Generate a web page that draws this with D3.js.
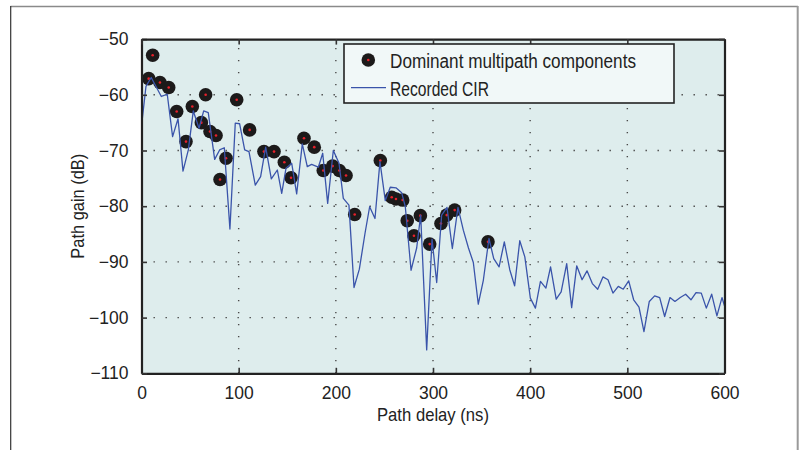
<!DOCTYPE html>
<html>
<head>
<meta charset="utf-8">
<script src="https://cdn.jsdelivr.net/npm/d3@7"></script>
<style>
  html, body { margin: 0; padding: 0; background: #ffffff; }
  svg { display: block; }
  text { font-family: "Liberation Sans Narrow", "Liberation Sans", Arial, sans-serif; fill: #222; }
</style>
</head>
<body>
<svg id="chart" width="806" height="450"></svg>
<script>
// ---------------- DATA ----------------
const xTicks = [0, 100, 200, 300, 400, 500, 600];
const yTicks = [-110, -100, -90, -80, -70, -60, -50];

// Recorded CIR (path delay ns, path gain dB)
const cirDelay = [0, 4.6, 10, 20.4, 26.5, 32, 37.6, 42.7, 48.2, 53.3, 59.2, 64, 68.7, 75.3, 80.4, 85.2, 91, 96.5, 101, 106.2,
  110.6, 117.1, 122.6, 127.8, 133.6, 139.8, 144.3, 148.7, 154.6, 159.7, 165.5, 170.6, 175.1, 182, 186.5, 191.6, 197.4, 203.3, 207.7, 213.5,
  218.7, 224.2, 230, 234.8, 240.3, 245.4, 250.9, 256, 261.9, 267.8, 271.5, 277.4, 283.2, 287.3, 293.5, 299, 303.8, 308.9, 314.4, 319.9,
  325.7, 331.2, 336.5, 341.5, 346.6, 351.8, 357.6, 362.5, 368, 373.4, 379, 384, 389.3, 394.5, 400.2, 405.4, 410.6, 416.2, 421, 426.8,
  431.9, 437.6, 442.7, 447.9, 453.4, 458.5, 464, 469.5, 474.9, 480.1, 485.2, 490.7, 495.8, 501.4, 506.5, 512, 517.1, 522.6, 528.1, 533.3,
  538.4, 543.9, 549, 554.5, 560, 565.5, 570.7, 576.1, 581.3, 586.8, 592.2, 597.4, 600];
const cirGain = [-65.6, -58.5, -56.9, -60.3, -59.9, -67.5, -64.3, -73.7, -69.9, -62.9, -66.0, -62.9, -63.2, -71.6, -69.9, -69.5, -84.1, -65.1, -65.2, -69.9,
  -70.2, -76.2, -74.7, -69.4, -75.1, -73.5, -77.7, -73.2, -72.3, -77.8, -68.8, -72.9, -72.5, -73.0, -70.5, -79.5, -70.0, -72.3, -78.6, -79.8,
  -94.6, -91.3, -84.9, -80.1, -82.2, -72.0, -79.0, -76.6, -76.7, -77.6, -80.1, -91.5, -87.5, -81.6, -105.8, -85.9, -93.7, -81.6, -80.2, -87.6,
  -80.2, -84.3, -87.5, -90.1, -97.6, -93.3, -85.8, -89.4, -90.9, -86.4, -91.4, -94.3, -86.2, -89.1, -96.5, -98.3, -93.5, -94.7, -90.9, -96.7,
  -95.4, -90.3, -98.2, -90.7, -93.2, -91.6, -93.9, -94.9, -92.7, -93.2, -95.6, -94.4, -94.9, -93.4, -96.8, -98.1, -102.5, -97.1, -96.1, -96.4,
  -99.8, -96.4, -97.1, -96.4, -95.8, -96.8, -95.5, -95.6, -98.3, -95.8, -99.7, -96.4, -97.9];

// Dominant multipath components
const mpcDelay = [11.5, 7.4, 19, 28, 36.2, 45.8, 52.3, 61.6, 66, 70.5, 76.7, 80.8, 87, 98, 111.3, 126, 136.4, 147, 153.9, 167.2,
  177.8, 187.1, 196.7, 203.6, 210.5, 219.4, 245.8, 257.5, 261.9, 268.8, 273.5, 280.4, 287, 296.6, 308.2, 314.1, 322.3, 356.6];
const mpcGain = [-52.9, -57.1, -57.8, -58.7, -63.0, -68.4, -62.1, -65.0, -60.0, -66.6, -67.3, -75.2, -71.4, -60.9, -66.3, -70.2, -70.2, -72.1, -74.9, -67.8,
  -69.4, -73.6, -72.8, -73.6, -74.5, -81.5, -71.8, -78.4, -78.7, -78.9, -82.6, -85.3, -81.7, -86.8, -83.1, -81.6, -80.7, -86.4];

const legendLabels = ["Dominant multipath components", "Recorded CIR"];
const xLabel = "Path delay (ns)";
const yLabel = "Path gain (dB)";

// ---------------- CHART ----------------
const svg = d3.select("#chart");
const L = 141.5, R = 724.5, T = 39.1, B = 373.3;
const x = d3.scaleLinear().domain([0, 600]).range([L, R]);
const y = d3.scaleLinear().domain([-110, -50]).range([B, T]);

// outer frame
svg.append("line").attr("x1", 10.5).attr("x2", 798).attr("y1", 6.5).attr("y2", 6.5)
  .attr("stroke", "#8a8a8a").attr("stroke-width", 1.5);
svg.append("line").attr("x1", 10.7).attr("x2", 10.7).attr("y1", 6).attr("y2", 450)
  .attr("stroke", "#333").attr("stroke-width", 1.2);
svg.append("line").attr("x1", 797.7).attr("x2", 797.7).attr("y1", 6).attr("y2", 450)
  .attr("stroke", "#9a9a9a").attr("stroke-width", 2);

// plot background
svg.append("rect").attr("x", L).attr("y", T).attr("width", R - L).attr("height", B - T)
  .attr("fill", "#deeded");

// grid (dotted)
const grid = svg.append("g").attr("stroke", "#4a4a4a").attr("stroke-width", 1.4)
  .attr("stroke-dasharray", "1.4,10.6");
grid.selectAll("line.h").data(yTicks.slice(1, -1)).join("line").attr("class", "h")
  .attr("x1", L).attr("x2", R).attr("y1", d => y(d)).attr("y2", d => y(d));
grid.selectAll("line.v").data(xTicks.slice(1, -1)).join("line").attr("class", "v")
  .attr("x1", d => x(d)).attr("x2", d => x(d)).attr("y1", B).attr("y2", T);

// clip
svg.append("clipPath").attr("id", "clip").append("rect")
  .attr("x", L).attr("y", T).attr("width", R - L).attr("height", B - T);
const plot = svg.append("g").attr("clip-path", "url(#clip)");

// markers
const mpc = mpcDelay.map((d, i) => ({ d, g: mpcGain[i] }));
plot.selectAll("circle.mpc").data(mpc).join("circle").attr("class", "mpc")
  .attr("cx", p => x(p.d)).attr("cy", p => y(p.g)).attr("r", 6.8)
  .attr("fill", "#1c1a1a");
plot.selectAll("circle.mpcc").data(mpc).join("circle").attr("class", "mpcc")
  .attr("cx", p => x(p.d)).attr("cy", p => y(p.g)).attr("r", 1.3)
  .attr("fill", "#e8202a");

// CIR line
const cir = cirDelay.map((d, i) => ({ d, g: cirGain[i] }));
plot.append("path").datum(cir)
  .attr("d", d3.line().x(p => x(p.d)).y(p => y(p.g)))
  .attr("fill", "none").attr("stroke", "#3a54aa").attr("stroke-width", 1.3)
  .attr("stroke-linejoin", "round");

// axes
const fmt = d3.format("d");
function styleAxis(g) {
  g.select(".domain").attr("stroke", "#222").attr("stroke-width", 2.2);
  g.selectAll(".tick line").attr("stroke", "#333").attr("stroke-width", 1.6);
  g.selectAll("text").attr("font-size", 17.5).attr("fill", "#2a2a2a")
    .attr("font-family", "\"Liberation Sans Narrow\", \"Liberation Sans\", Arial, sans-serif");
}
svg.append("g").attr("transform", `translate(0,${B})`)
  .call(d3.axisBottom(x).tickValues(xTicks).tickFormat(fmt).tickSizeInner(-5.5).tickSizeOuter(0).tickPadding(13))
  .call(styleAxis);
svg.append("g").attr("transform", `translate(${L},0)`)
  .call(d3.axisLeft(y).tickValues(yTicks).tickFormat(fmt).tickSizeInner(-5.5).tickSizeOuter(0).tickPadding(13))
  .call(styleAxis);
svg.append("g").attr("transform", `translate(0,${T})`)
  .call(d3.axisTop(x).tickValues(xTicks).tickFormat("").tickSizeInner(-5.5).tickSizeOuter(0))
  .call(styleAxis);
svg.append("g").attr("transform", `translate(${R},0)`)
  .call(d3.axisRight(y).tickValues(yTicks).tickFormat("").tickSizeInner(-5.5).tickSizeOuter(0))
  .call(styleAxis);
svg.selectAll(".domain").attr("fill", "none");

// axis titles
svg.append("text").attr("x", (L + R) / 2).attr("y", 421).attr("text-anchor", "middle")
  .attr("font-size", 19).attr("fill", "#2a2a2a")
  .attr("textLength", 112).attr("lengthAdjust", "spacingAndGlyphs").text(xLabel);
svg.append("text").attr("transform", `translate(84,${(T + B) / 2}) rotate(-90)`)
  .attr("text-anchor", "middle").attr("font-size", 19).attr("fill", "#2a2a2a")
  .attr("textLength", 105).attr("lengthAdjust", "spacingAndGlyphs").text(yLabel);

// legend
const lg = svg.append("g");
lg.append("rect").attr("x", 344).attr("y", 44).attr("width", 330).attr("height", 59)
  .attr("fill", "#f1f8f8").attr("stroke", "#222").attr("stroke-width", 1.6);
lg.append("circle").attr("cx", 368.3).attr("cy", 60).attr("r", 6.8).attr("fill", "#1c1a1a");
lg.append("circle").attr("cx", 368.3).attr("cy", 60).attr("r", 1.3).attr("fill", "#e8202a");
lg.append("line").attr("x1", 351).attr("x2", 386).attr("y1", 87.7).attr("y2", 87.7)
  .attr("stroke", "#3a54aa").attr("stroke-width", 1.3);
lg.append("text").attr("x", 390).attr("y", 67.5).attr("font-size", 20).attr("fill", "#2a2a2a")
  .attr("textLength", 246).attr("lengthAdjust", "spacingAndGlyphs").text(legendLabels[0]);
lg.append("text").attr("x", 390).attr("y", 95.5).attr("font-size", 20).attr("fill", "#2a2a2a")
  .attr("textLength", 99).attr("lengthAdjust", "spacingAndGlyphs").text(legendLabels[1]);
</script>
</body>
</html>
